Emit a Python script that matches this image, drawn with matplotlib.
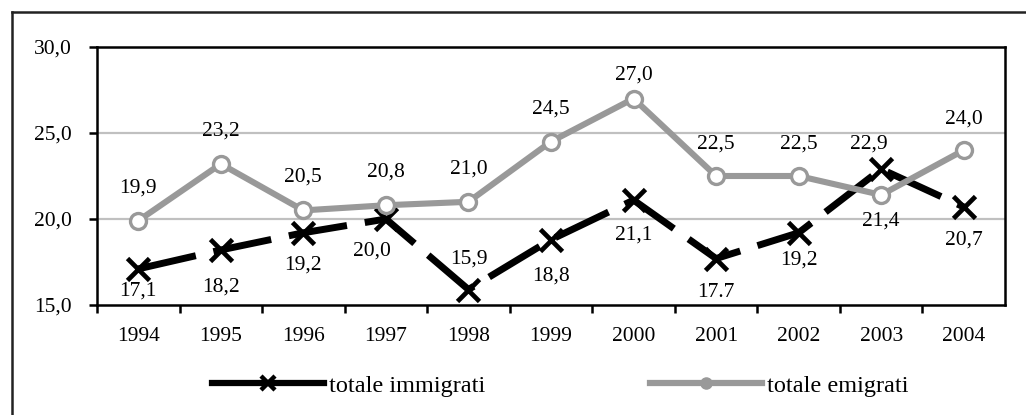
import matplotlib
matplotlib.use("Agg")
import matplotlib.pyplot as plt
from matplotlib.lines import Line2D
import numpy as np

years = ["1994", "1995", "1996", "1997", "1998", "1999", "2000", "2001", "2002", "2003", "2004"]
immigrati = [17.1, 18.2, 19.2, 20.0, 15.9, 18.8, 21.1, 17.7, 19.2, 22.9, 20.7]
emigrati = [19.9, 23.2, 20.5, 20.8, 21.0, 24.5, 27.0, 22.5, 22.5, 21.4, 24.0]
imm_labels = ["17,1", "18,2", "19,2", "20,0", "15,9", "18,8", "21,1", "17.7", "19,2", "22,9", "20,7"]
emi_labels = ["19,9", "23,2", "20,5", "20,8", "21,0", "24,5", "27,0", "22,5", "22,5", "21,4", "24,0"]
yticks = [15.0, 20.0, 25.0, 30.0]

plt.rcParams['font.family'] = ['Liberation Serif', 'DejaVu Serif']

W, H = 1026, 415
fig = plt.figure(figsize=(W / 100, H / 100), dpi=100)
ax = fig.add_axes([97 / W, 1 - 305 / H, (1005 - 97) / W, (305 - 47) / H])

x = np.arange(len(years))
GRAY = '#999999'

ax.set_ylim(15, 30)
ax.set_xlim(-0.5, len(years) - 0.5)

for yv in yticks[1:3]:
    ax.axhline(yv, color='#c0c0c0', lw=1.6, zorder=1)

l_imm, = ax.plot(x, immigrati, color='black', lw=5.0, zorder=3,
                 marker='x', ms=16, mew=3.4, mec='black', clip_on=False)
l_imm.set_dashes([8.5, 2.6])
l_imm.set_dash_capstyle('butt')

ax.plot(x, emigrati, color=GRAY, lw=4.4, zorder=4,
        marker='o', ms=11.5, mfc='white', mec=GRAY, mew=2.4, clip_on=False)

px2pt = 0.72
imm_off = {i: (0, -36) for i in range(len(years))}
imm_off.update({0: (0, -22), 1: (0, -37), 2: (0, -32), 3: (-14, -32), 4: (0, 30),
                6: (0, -35), 7: (0, -34), 8: (0, -27), 9: (-12, 25), 10: (0, -33)})
emi_off = {i: (0, 33) for i in range(len(years))}
emi_off.update({6: (0, 24), 7: (0, 32), 8: (0, 32), 9: (0, -26), 10: (0, 31)})

for i in range(len(years)):
    dx, dy = imm_off[i]
    ax.annotate(imm_labels[i], (x[i], immigrati[i]), xytext=(dx * px2pt, dy * px2pt),
                textcoords='offset points', ha='center', va='center', fontsize=15.5, zorder=5)
    dx, dy = emi_off[i]
    ax.annotate(emi_labels[i], (x[i], emigrati[i]), xytext=(dx * px2pt, dy * px2pt),
                textcoords='offset points', ha='center', va='center', fontsize=15.5, zorder=5)

for s in ax.spines.values():
    s.set_linewidth(1.8)
    s.set_color('black')

ax.set_yticks(yticks)
ax.set_yticklabels([f"{v:.1f}".replace('.', ',') for v in yticks], fontsize=15.5)
ax.tick_params(axis='y', direction='out', length=6, width=1.8, pad=12)

ax.set_xticks(np.arange(-0.5, len(years) - 1, 1.0))
ax.set_xticklabels([])
ax.set_xticks(x, minor=True)
ax.set_xticklabels(years, minor=True, fontsize=15.5)
ax.tick_params(axis='x', which='major', direction='out', length=6, width=1.8)
ax.tick_params(axis='x', which='minor', length=0, pad=16)

# outer frame (top and left visible)
fig.add_artist(Line2D([12 / W, 1.0], [1 - 12 / H, 1 - 12 / H], color='#222222', lw=1.8))
fig.add_artist(Line2D([12 / W, 12 / W], [0, 1 - 12 / H], color='#222222', lw=1.8))

h_imm = Line2D([], [], color='black', lw=4.5, marker='x', ms=10, mew=3.2)
h_emi = Line2D([], [], color=GRAY, lw=4.5, marker='o', ms=8, mfc=GRAY, mec=GRAY)
fig.legend([h_imm, h_emi], ["totale immigrati", "totale emigrati"], ncol=2,
           loc='center left', bbox_to_anchor=(212 / W, 1 - 386 / H), frameon=False,
           fontsize=17.5, handlelength=4.6, handletextpad=0.2, columnspacing=6.8,
           borderpad=0, borderaxespad=0)

fig.savefig("out.png", dpi=100, facecolor='white')
